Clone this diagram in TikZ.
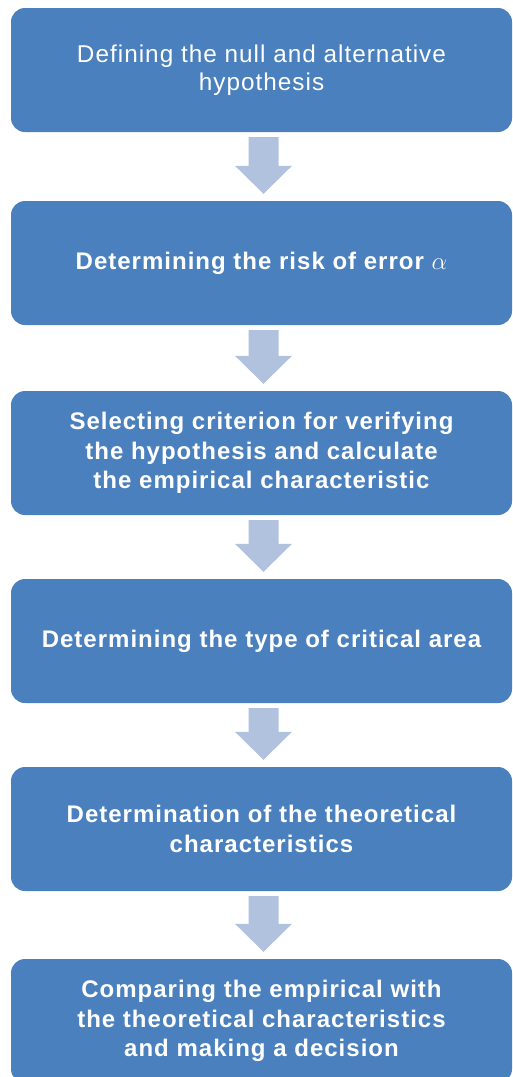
\documentclass[tikz,border=0pt]{standalone}
\usepackage{fontspec}
\setmainfont[LetterSpace=4.2]{Liberation Sans}
\usetikzlibrary{calc}
\definecolor{stepblue}{HTML}{4A80BE}
\definecolor{arrowblue}{HTML}{B1C2DE}
\tikzset{
  stepbox/.style={fill=stepblue, draw=none, rounded corners=14pt,
    minimum width=501pt, minimum height=124pt, text=white,
    align=center, font=\fontsize{24.3}{28.5}\selectfont, inner sep=0pt},
  boldbox/.style={stepbox, font=\fontsize{24}{29.5}\selectfont\bfseries},
  downarrow/.style={fill=arrowblue, draw=none}
}
\begin{document}
\begin{tikzpicture}[x=1pt, y=-1pt]
  \useasboundingbox (0,0) rectangle (512,1077);
  \fill[white] (0,0) rectangle (512,1077);
  % process steps
  \node[stepbox] (s1) at (261.5,70) {Defining the null and alternative\\hypothesis};
  \node[boldbox] (s2) at (261.5,263) {Determining the risk of error $\alpha$};
  \node[boldbox] (s3) at (261.5,453) {Selecting criterion for verifying\\the hypothesis and calculate\\the empirical characteristic};
  \node[boldbox] (s4) at (261.5,641) {Determining the type of critical area};
  \node[boldbox] (s5) at (261.5,829) {Determination of the theoretical\\characteristics};
  \node[boldbox] (s6) at (261.5,1021) {Comparing the empirical with\\the theoretical characteristics\\and making a decision};
  % block arrows between consecutive steps
  \foreach \a/\b in {s1/s2, s2/s3, s3/s4, s4/s5, s5/s6} {
    \path ($(\a.south)+(2,5)$) coordinate (t) ($(\b.north)+(2,-7)$) coordinate (h);
    \fill[downarrow] ($(t)+(-15,0)$) -- ($(t)+(15,0)$) -- ($(h)+(15,-28)$)
      -- ($(h)+(28.5,-28)$) -- (h) -- ($(h)+(-28.5,-28)$) -- ($(h)+(-15,-28)$) -- cycle;
  }
\end{tikzpicture}
\end{document}
